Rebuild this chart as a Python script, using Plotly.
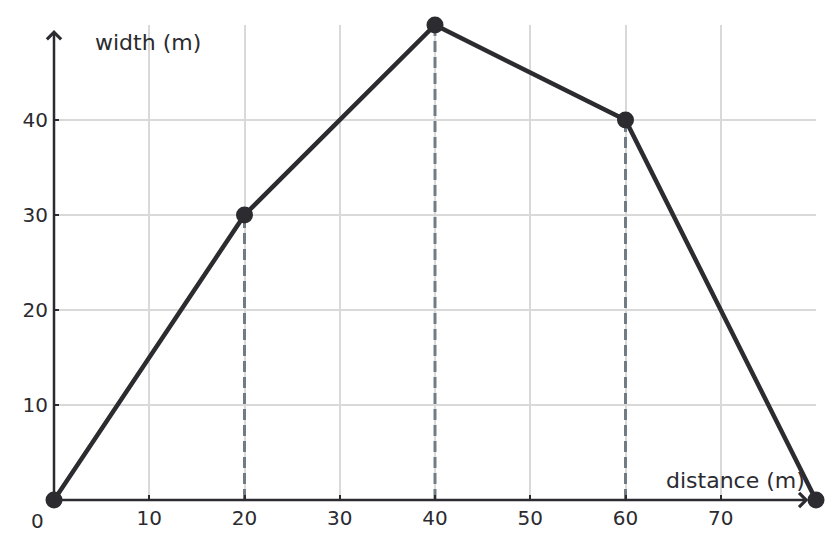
import plotly.graph_objects as go

# profile of the cross-section
distance = [0, 20, 40, 60, 80]
width = [0, 30, 50, 40, 0]

x_ticks = [10, 20, 30, 40, 50, 60, 70]
y_ticks = [10, 20, 30, 40]

dark = "rgb(43,43,48)"
dash_col = "rgb(114,124,132)"
grid_col = "rgb(217,217,217)"
font = "DejaVu Sans"

fig = go.Figure()

# dashed drops from the inner points
for xd, yd in zip(distance[1:-1], width[1:-1]):
    fig.add_trace(go.Scatter(x=[xd, xd], y=[0, yd], mode="lines",
                             line=dict(color=dash_col, width=3, dash="11px,5px"),
                             hoverinfo="skip", showlegend=False))

fig.add_trace(go.Scatter(x=distance, y=width, mode="lines+markers",
                         line=dict(color=dark, width=4.5),
                         marker=dict(color=dark, size=17),
                         cliponaxis=False, showlegend=False))

# axes with arrow heads
fig.add_annotation(x=0, y=50, ax=0, ay=0, xref="x", yref="y", axref="x", ayref="y",
                   yshift=-5, text="", showarrow=True, arrowhead=4, arrowsize=1.1,
                   arrowwidth=2.5, arrowcolor=dark)
fig.add_annotation(x=79.2, y=0, ax=0, ay=0, xref="x", yref="y", axref="x", ayref="y",
                   text="", showarrow=True, arrowhead=4, arrowsize=1.1,
                   arrowwidth=2.5, arrowcolor=dark)

fig.add_annotation(x=4.1, y=48.2, xref="x", yref="y", text="width (m)", showarrow=False,
                   xanchor="left", yanchor="middle", font=dict(size=22, color=dark, family=font))
fig.add_annotation(x=79.1, y=2.1, xref="x", yref="y", text="distance (m)", showarrow=False,
                   xanchor="right", yanchor="middle", font=dict(size=22, color=dark, family=font))
fig.add_annotation(x=0, y=0, xref="x", yref="y", text="0", showarrow=False,
                   xshift=-17, yshift=-21, font=dict(size=20, color=dark, family=font))

fig.update_xaxes(range=[0, 80], tickvals=x_ticks, ticks="inside", ticklen=5, tickwidth=2,
                 tickcolor=dark, showgrid=True, gridcolor=grid_col, gridwidth=1.5,
                 zeroline=False, showline=False, ticklabelstandoff=4,
                 tickfont=dict(size=20, color=dark, family=font))
fig.update_yaxes(range=[0, 50], tickvals=y_ticks, ticks="inside", ticklen=5, tickwidth=2,
                 tickcolor=dark, showgrid=True, gridcolor=grid_col, gridwidth=1.5,
                 zeroline=False, showline=False, ticklabelstandoff=5,
                 tickfont=dict(size=20, color=dark, family=font))

# page body has an 8px margin, so the figure is a bit smaller than the window
fig.update_layout(width=824, height=533, margin=dict(l=46, r=16, t=17, b=41),
                  plot_bgcolor="white", paper_bgcolor="white",
                  font=dict(family=font, color=dark))

fig.write_html("out.html")
